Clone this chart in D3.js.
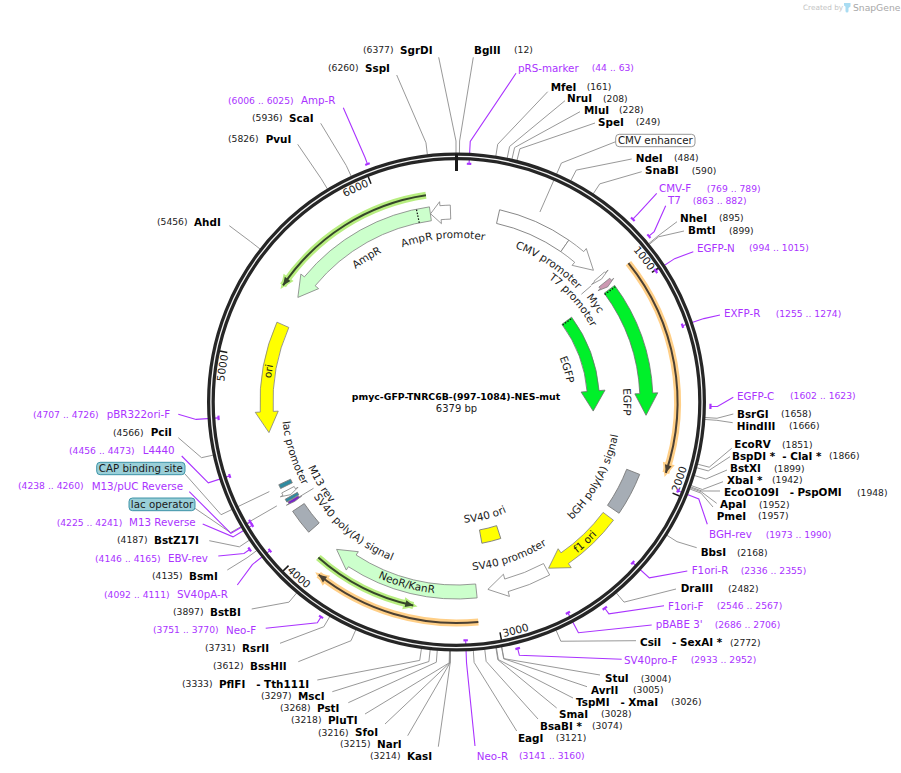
<!DOCTYPE html>
<html>
<head>
<meta charset="utf-8">
<script src="https://cdn.jsdelivr.net/npm/d3@7"></script>
<style>
  html, body { margin: 0; padding: 0; background: #fff; }
  svg { display: block; }
  text { font-family: "DejaVu Sans", sans-serif; white-space: pre; }
</style>
</head>
<body>
<svg id="map"></svg>
<script>
const plasmidName = 'pmyc-GFP-TNRC6B-(997-1084)-NES-mut';
const plasmidLength = 6379;
const tickValues = [1000, 2000, 3000, 4000, 5000, 6000];

// restriction sites
const siteNames = ['SgrDI', 'SspI', 'BglII', 'MfeI', 'NruI', 'MluI', 'SpeI', 'NdeI', 'SnaBI', 'NheI', 'BmtI',
    'BsrGI', 'HindIII', 'EcoRV', 'BspDI *  - ClaI *', 'BstXI', 'XbaI *', 'EcoO109I   - PspOMI', 'ApaI', 'PmeI',
    'BbsI', 'DraIII', 'CsiI   - SexAI *', 'StuI', 'AvrII', 'TspMI   - XmaI', 'SmaI', 'BsaBI *', 'EagI', 'KasI',
    'NarI', 'SfoI', 'PluTI', 'PstI', 'MscI', 'PflFI   - Tth111I', 'BssHII', 'RsrII', 'BstBI', 'BsmI', 'BstZ17I',
    'PciI', 'AhdI', 'PvuI', 'ScaI'];
const siteBps = [6377, 6260, 12, 161, 208, 228, 249, 484, 590, 895, 899,
    1658, 1666, 1851, 1866, 1899, 1942, 1948, 1952, 1957,
    2168, 2482, 2772, 3004, 3005, 3026, 3028, 3074, 3121, 3214,
    3215, 3216, 3218, 3268, 3297, 3333, 3612, 3731, 3897, 4135, 4187,
    4566, 5456, 5826, 5936];

// primers
const primerNames = ['pRS-marker', 'CMV-F', 'T7', 'EGFP-N', 'EXFP-R', 'EGFP-C', 'BGH-rev', 'F1ori-R', 'F1ori-F',
    "pBABE 3'", 'SV40pro-F', 'Neo-R', 'Neo-F', 'SV40pA-R', 'EBV-rev', 'M13 Reverse', 'M13/pUC Reverse', 'L4440',
    'pBR322ori-F', 'Amp-R'];
const primerStarts = [44, 769, 863, 994, 1255, 1602, 1973, 2336, 2546, 2686, 2933, 3141, 3751, 4092, 4146, 4225, 4238, 4456, 4707, 6006];
const primerEnds = [63, 789, 882, 1015, 1274, 1623, 1990, 2355, 2567, 2706, 2952, 3160, 3770, 4111, 4165, 4241, 4260, 4473, 4726, 6025];

// features, "from" is the tail and "to" the tip for the arrow ones
const arrowNames = ['CMV promoter', 'T7 promoter', 'Myc', 'EGFP', 'EGFP', 'f1 ori', 'SV40 promoter', 'NeoR/KanR', 'ori', 'AmpR', 'AmpR promoter', 'lac promoter', 'M13 rev'];
const arrowFrom = [616, 863, 905, 950, 950, 2250, 2688, 3083, 5209, 6239, 6347, 4297, 4241];
const arrowTo = [817, 881, 934, 1666, 1662, 2676, 3021, 3883, 4620, 5376, 6240, 4267, 4225];

const blockNames = ['CMV enhancer', 'bGH poly(A) signal', 'SV40 ori', 'SV40 poly(A) signal', 'CAP binding site', 'lac operator'];
const blockFrom = [224, 1977, 2871, 4051, 4320, 4244];
const blockTo = [616, 2204, 3009, 4187, 4342, 4260];

// thin translated-region lines with a halo
const lineFrom = [905, 3089, 3927, 6230];
const lineTo = [1926, 3873, 3402, 5385];

// ---------- layout, nothing below here is chart data ----------
const width = 901;
const height = 773;
const cx = 456.5;
const cy = 402;
const ringR = 245.6;
const elbowR = 261;
const purple = '#aa33ff';
const greyLine = '#8c8c8c';

// [name x, number x, text y, leader x, leader y]
const siteLayout = [
    [400, 363, 50, 438.7, 57.3], [365, 328, 68, 396.7, 75], [474, 514, 50, 473.3, 57.3],
    [550.7, 586.7, 87, 547.7, 91.7], [567, 603, 98.5, 565, 100.7], [584, 619, 110, 580, 111.7],
    [598, 635.7, 122, 595, 123], [635.7, 674, 158, 631.7, 159], [645, 691.7, 170.5, 641.7, 171.7],
    [680, 719, 218, 677, 221.7], [688, 729, 230.5, 684, 231], [737, 781, 414, 733.3, 414],
    [736.7, 789, 426, 732.7, 422.7], [734.3, 782, 444.3, 731.7, 448.3], [732, 829, 456, 730, 456.7],
    [730, 774, 468.3, 727, 470], [727, 772, 480, 723, 481.7], [724, 857, 492.3, 720, 491],
    [720, 759, 504.3, 716.7, 503.3], [716.7, 758, 516, 713, 507], [700.7, 737, 552.3, 696.7, 547.7],
    [680.7, 728, 588.3, 676, 589], [640, 730, 642.3, 636, 640.7], [605, 640.7, 678.3, 600, 675],
    [591, 633, 690, 587, 686.7], [576, 671, 702, 573, 698], [559, 601, 714, 556.7, 708],
    [540, 592, 726, 538, 719], [518, 555.7, 738, 516.7, 731], [407, 370, 756, 438.3, 746.7],
    [377, 340, 744, 407.7, 735.7], [355, 318, 732.3, 385, 724], [328, 291, 720, 365, 714],
    [317, 280, 708, 348.3, 702.7], [298, 261, 696, 332.3, 691.7], [219, 182, 684, 317.3, 680],
    [250, 213, 666, 298.3, 661.7], [242, 205, 648, 280, 643.3], [210, 173, 612, 251.7, 609],
    [189, 152, 576, 227.3, 570], [154, 117, 540, 209.3, 540.7], [150.7, 113, 432.3, 178.3, 437.7],
    [194, 157, 222, 229.3, 225.7], [265.7, 228, 139, 297.7, 144.3], [289, 252, 118, 320.7, 123.3]
];

const primerLayout = [
    [518, 591.7, 68, 516, 73.3], [659, 706.7, 188.3, 656.7, 193.3], [668, 692.7, 200.7, 665.7, 205.7],
    [697, 749, 248, 693.3, 251.7], [724, 775.7, 313.3, 720, 315], [737, 790, 396, 733.3, 397.3],
    [709, 765.7, 534.3, 707.3, 524.3], [691.7, 740.7, 570.3, 687.3, 571], [668, 716.7, 606, 664, 605.7],
    [655.7, 714.7, 624.3, 651.7, 625], [624, 690.7, 660, 621.7, 659.3], [476.7, 519, 756, 475, 746],
    [226, 153, 630, 265.7, 628.3], [177, 104, 594.3, 237.3, 585], [168, 95, 558.3, 218.3, 556],
    [129, 56.7, 522.3, 202.7, 524], [91.7, 18, 486, 189.3, 491.7], [142.7, 69, 450.3, 181.7, 456],
    [106.7, 33, 414.3, 178.3, 414.3], [301, 228, 100.7, 343.3, 107.7]
];
const primerRadius = [238.5, 254, 254, 238.5, 238.5, 254, 238.5, 238.5, 254, 238.5, 254, 238.5, 254, 238.5, 254, 238.5, 238.5, 238.5, 238.5, 254];

// [centre r, half width, head half width, head length, fill, stroke]
const arrowStyle = [
    [190, 7, 11, 19.5, '#ffffff', '#808080'], [190, 7, 11, 2.5, '#ffffff', '#808080'], [190, 7, 10, 3, '#cc99b2', '#808080'],
    [190, 6.5, 11.5, 22, '#00f02a', '#6e6e6e'], [137, 6, 12, 20, '#00f02a', '#6e6e6e'], [190, 6.5, 11.5, 19, '#ffff00', '#808080'],
    [190, 6.5, 11.5, 19, '#ffffff', '#808080'], [190, 7, 11, 19.5, '#ccffcc', '#808080'], [190, 6.5, 11.5, 21, '#ffff00', '#808080'],
    [190, 7, 11.5, 20, '#ccffcc', '#808080'], [190, 7, 11, 10, '#ffffff', '#808080'],
    [190, 7, 10, 3, '#ffffff', '#808080'], [190, 6, 9, 1, '#7a22cc', '#808080']
];
const blockStyle = [
    [183, 197, '#ffffff'], [183, 197, '#a6adb5'], [130, 143.5, '#ffff00'], [183, 197, '#a6adb5'], [183, 196, '#2f8ba0'], [183, 197, '#2f8ba0']
];
const lineStyle = [[221, '#ffcf87', '#4b4033'], [221, '#ffcf87', '#4b4033'], [208, '#b8ee80', '#35452a'], [209, '#b8ee80', '#35452a']];

// [text, baseline r, centre angle in degrees, clockwise]
const featureLabels = [
    ['CMV promoter', 165, 33.9, true], ['T7 promoter', 154, 48.8, true], ['Myc', 167, 54.6, true],
    ['EGFP', 167, 90, true], ['EGFP', 112, 73.6, true], ['AmpR promoter', 164, -4.7, true],
    ['AmpR', 167, -31.9, true], ['ori', 187, -80.7, true], ['lac promoter', 175, 252.6, false],
    ['M13 rev', 162, 238.8, false], ['SV40 poly(A) signal', 171.5, 219.4, false], ['NeoR/KanR', 192.5, 195.3, false],
    ['SV40 promoter', 169, 161.1, false], ['f1 ori', 193.5, 137.4, false], ['bGH poly(A) signal', 165, 118.6, false],
    ['SV40 ori', 121, 166, false]
];

// boxed feature callouts: [name, box x, box y, box w, box h, fill, stroke, leader x, leader y]
const calloutBoxes = [
    ['CMV enhancer', 615.7, 134.3, 79.3, 12.4, '#ffffff', '#8c8c8c', 615.7, 141.7],
    ['CAP binding site', 96.7, 462.3, 88.3, 12.4, '#9acfd8', '#2f8ba0', 185, 474],
    ['lac operator', 129, 498, 66, 12.7, '#9acfd8', '#2f8ba0', 195, 508.3]
];

let svg = d3.select('#map').attr('width', width).attr('height', height);
let defs = svg.append('defs');
let pathId = 0;

const bpToAngle = d3.scaleLinear().domain([0, plasmidLength]).range([0, 2 * Math.PI]);

let polar = (r, a) => [cx + r * Math.sin(a), cy - r * Math.cos(a)];
let bpPoint = (r, bp) => polar(r, bpToAngle(bp));
let arcSegment = d3.arc();

let drawRingArc = (parent, r0, r1, bp0, bp1) => parent.append('path')
    .attr('transform', `translate(${cx},${cy})`)
    .attr('d', arcSegment({ innerRadius: r0, outerRadius: r1, startAngle: bpToAngle(bp0), endAngle: bpToAngle(bp1) }));

let arrowPath = (from, to, rc, half, headHalf, headPx) => {
    const dir = to > from ? 1 : -1;
    const a0 = bpToAngle(from);
    const a1 = bpToAngle(to);
    const aBase = a1 - dir * headPx / rc;
    const p = d3.path();
    p.moveTo(...polar(rc + half, a0));
    p.arc(cx, cy, rc + half, a0 - Math.PI / 2, aBase - Math.PI / 2, dir < 0);
    p.lineTo(...polar(rc + headHalf, aBase));
    p.lineTo(...polar(rc, a1));
    p.lineTo(...polar(rc - headHalf, aBase));
    p.lineTo(...polar(rc - half, aBase));
    p.arc(cx, cy, rc - half, aBase - Math.PI / 2, a0 - Math.PI / 2, dir > 0);
    p.closePath();
    return p.toString();
};

let thinArrowPath = (from, to, r) => {
    const dir = to > from ? 1 : -1;
    const a0 = bpToAngle(from);
    const a1 = bpToAngle(to);
    const aBase = a1 - dir * 8 / r;
    const p = d3.path();
    p.moveTo(...polar(r, a0));
    p.arc(cx, cy, r, a0 - Math.PI / 2, a1 - Math.PI / 2, dir < 0);
    return { line: p.toString(), head: [polar(r + 3.5, aBase), polar(r, a1), polar(r - 3.5, aBase)] };
};

let textOnArc = (label, r, startDeg, endDeg, clockwise, anchor, size) => {
    const id = 'arc' + (pathId++);
    const a0 = startDeg * Math.PI / 180;
    const a1 = endDeg * Math.PI / 180;
    const p = d3.path();
    p.moveTo(...polar(r, a0));
    p.arc(cx, cy, r, a0 - Math.PI / 2, a1 - Math.PI / 2, !clockwise);
    defs.append('path').attr('id', id).attr('d', p.toString());
    const offset = anchor === 'middle' ? '50%' : anchor === 'end' ? '100%' : '0%';
    svg.append('text')
        .attr('font-size', size)
        .attr('fill', '#1a1a1a')
        .attr('text-anchor', anchor)
        .append('textPath')
        .attr('href', '#' + id)
        .attr('startOffset', offset)
        .text(label);
};

// lines with halo, under the rest
let drawLines = () => {
    lineFrom.forEach((from, i) => {
        const [r, halo, dark] = lineStyle[i];
        const shape = thinArrowPath(from, lineTo[i], r);
        const headLine = d3.line()(shape.head) + 'Z';
        svg.append('path').attr('d', shape.line).attr('fill', 'none').attr('stroke', halo).attr('stroke-width', 7);
        svg.append('path').attr('d', headLine).attr('fill', halo).attr('stroke', halo).attr('stroke-width', 3.5);
        svg.append('path').attr('d', shape.line).attr('fill', 'none').attr('stroke', dark).attr('stroke-width', 2);
        svg.append('path').attr('d', headLine).attr('fill', dark);
    });
};

let drawFeatures = () => {
    blockFrom.forEach((from, i) => {
        const [r0, r1, fill] = blockStyle[i];
        drawRingArc(svg, r0, r1, from, blockTo[i]).attr('fill', fill).attr('stroke', '#7a7a7a').attr('stroke-width', 0.9);
    });
    arrowFrom.forEach((from, i) => {
        const [rc, half, headHalf, headPx, fill, stroke] = arrowStyle[i];
        svg.append('path')
            .attr('d', arrowPath(from, arrowTo[i], rc, half, headHalf, headPx))
            .attr('fill', fill)
            .attr('stroke', stroke)
            .attr('stroke-width', 0.8);
    });

    // signal peptide dots
    [[6171, 183, 197], [958, 183, 196], [958, 131, 143]].forEach(d => {
        svg.append('line')
            .attr('x1', bpPoint(d[1], d[0])[0]).attr('y1', bpPoint(d[1], d[0])[1])
            .attr('x2', bpPoint(d[2], d[0])[0]).attr('y2', bpPoint(d[2], d[0])[1])
            .attr('stroke', '#111').attr('stroke-width', 1.2).attr('stroke-dasharray', '1.5 1.5');
    });

    // short leaders of labels which have no room next to the part
    [[872, 178, 165], [4233, 184, 167]].forEach(d => {
        svg.append('line')
            .attr('x1', bpPoint(d[1], d[0])[0]).attr('y1', bpPoint(d[1], d[0])[1])
            .attr('x2', bpPoint(d[2], d[0])[0]).attr('y2', bpPoint(d[2], d[0])[1])
            .attr('stroke', greyLine).attr('stroke-width', 0.9);
    });

    featureLabels.forEach(([label, r, deg, clockwise]) => {
        textOnArc(label, r, clockwise ? deg - 70 : deg + 70, clockwise ? deg + 70 : deg - 70, clockwise, 'middle', 10.5);
    });
};

let drawBackbone = () => {
    svg.append('circle').attr('cx', cx).attr('cy', cy).attr('r', ringR).attr('fill', 'none').attr('stroke', '#262626').attr('stroke-width', 7.8);
    svg.append('circle').attr('cx', cx).attr('cy', cy).attr('r', ringR).attr('fill', 'none').attr('stroke', '#f4f4f4').attr('stroke-width', 1.3);

    svg.append('line')
        .attr('x1', cx).attr('y1', cy - 248)
        .attr('x2', cx).attr('y2', cy - 231)
        .attr('stroke', '#1a1a1a').attr('stroke-width', 3);

    tickValues.forEach(v => {
        const a = bpPoint(242, v);
        const b = bpPoint(234.5, v);
        svg.append('line')
            .attr('x1', a[0]).attr('y1', a[1]).attr('x2', b[0]).attr('y2', b[1])
            .attr('stroke', '#1a1a1a').attr('stroke-width', 1.5);
        const deg = v / plasmidLength * 360;
        if (deg < 90 || deg > 270) {
            textOnArc(String(v), 233, deg - 40, deg - 0.6, true, 'end', 10.5);
        } else {
            textOnArc(String(v), 239.5, deg - 0.6, deg - 40, false, 'start', 10.5);
        }
    });
};

let drawLeader = (layout, bp, innerR, color) => {
    const pts = [[layout[3], layout[4]], bpPoint(elbowR, bp), bpPoint(innerR, bp)];
    svg.append('path')
        .attr('d', d3.line()(pts))
        .attr('fill', 'none')
        .attr('stroke', color)
        .attr('stroke-width', color === purple ? 1.1 : 0.9);
};

// leaders go under the backbone ring, the marks and labels on top
let drawLeaders = () => {
    siteNames.forEach((name, i) => drawLeader(siteLayout[i], siteBps[i], 249, greyLine));
    primerNames.forEach((name, i) => drawLeader(primerLayout[i], (primerStarts[i] + primerEnds[i]) / 2, primerRadius[i], purple));
};

let drawSites = () => {
    siteNames.forEach((name, i) => {
        const layout = siteLayout[i];
        svg.append('text').attr('x', layout[0]).attr('y', layout[2]).attr('dy', '0.35em')
            .attr('font-size', 10.4).attr('font-weight', 'bold').attr('fill', '#000').text(name);
        svg.append('text').attr('x', layout[1]).attr('y', layout[2]).attr('dy', '0.35em')
            .attr('font-size', 9.2).attr('fill', '#222').text(`(${siteBps[i]})`);
    });
};

let drawPrimers = () => {
    primerNames.forEach((name, i) => {
        const layout = primerLayout[i];
        drawRingArc(svg, primerRadius[i] - 1.1, primerRadius[i] + 1.1, primerStarts[i], primerEnds[i]).attr('fill', purple);
        svg.append('text').attr('x', layout[0]).attr('y', layout[2]).attr('dy', '0.35em')
            .attr('font-size', 10.3).attr('fill', purple).text(name);
        svg.append('text').attr('x', layout[1]).attr('y', layout[2]).attr('dy', '0.35em')
            .attr('font-size', 9.2).attr('fill', purple).text(`(${primerStarts[i]} .. ${primerEnds[i]})`);
    });
};

let drawCallouts = () => {
    calloutBoxes.forEach(([name, x, y, w, h, fill, stroke, lx, ly]) => {
        const index = blockNames.indexOf(name);
        const mid = (blockFrom[index] + blockTo[index]) / 2;
        const pts = [[lx, ly], bpPoint(elbowR, mid), bpPoint(207.5, mid)];
        svg.append('path').attr('d', d3.line()(pts)).attr('fill', 'none').attr('stroke', greyLine).attr('stroke-width', 0.9);
        svg.append('rect').attr('x', x).attr('y', y).attr('width', w).attr('height', h).attr('rx', 3.5)
            .attr('fill', fill).attr('stroke', stroke).attr('stroke-width', 0.9);
        svg.append('text').attr('x', x + w / 2).attr('y', y + h / 2).attr('dy', '0.36em')
            .attr('text-anchor', 'middle').attr('font-size', 10.3).attr('fill', '#1a1a1a').text(name);
    });
};

let drawTitle = () => {
    svg.append('text').attr('x', 456).attr('y', 397).attr('dy', '0.35em').attr('text-anchor', 'middle')
        .attr('font-size', 9.35).attr('font-weight', 'bold').attr('fill', '#000').text(plasmidName);
    svg.append('text').attr('x', 456.5).attr('y', 408).attr('dy', '0.35em').attr('text-anchor', 'middle')
        .attr('font-size', 10).attr('fill', '#1a1a1a').text(`${plasmidLength} bp`);
};

let drawLogo = () => {
    svg.append('text').attr('x', 803).attr('y', 10).attr('font-size', 7.3).attr('fill', '#c4c4c4').text('Created by');
    svg.append('path').attr('d', 'M844 3h6.5v3.5q-1 .5-2 1.5v3q0 1.5-1.5 1.5t-1.5-1.5v-4q0-1-1.5-1.5z').attr('fill', '#a9dcf2');
    svg.append('text').attr('x', 853).attr('y', 10.5).attr('font-size', 9.2).attr('fill', '#a8a8a8').text('SnapGene');
};

drawLines();
drawFeatures();
drawCallouts();
drawLeaders();
drawBackbone();
drawSites();
drawPrimers();
drawTitle();
drawLogo();
</script>
</body>
</html>
